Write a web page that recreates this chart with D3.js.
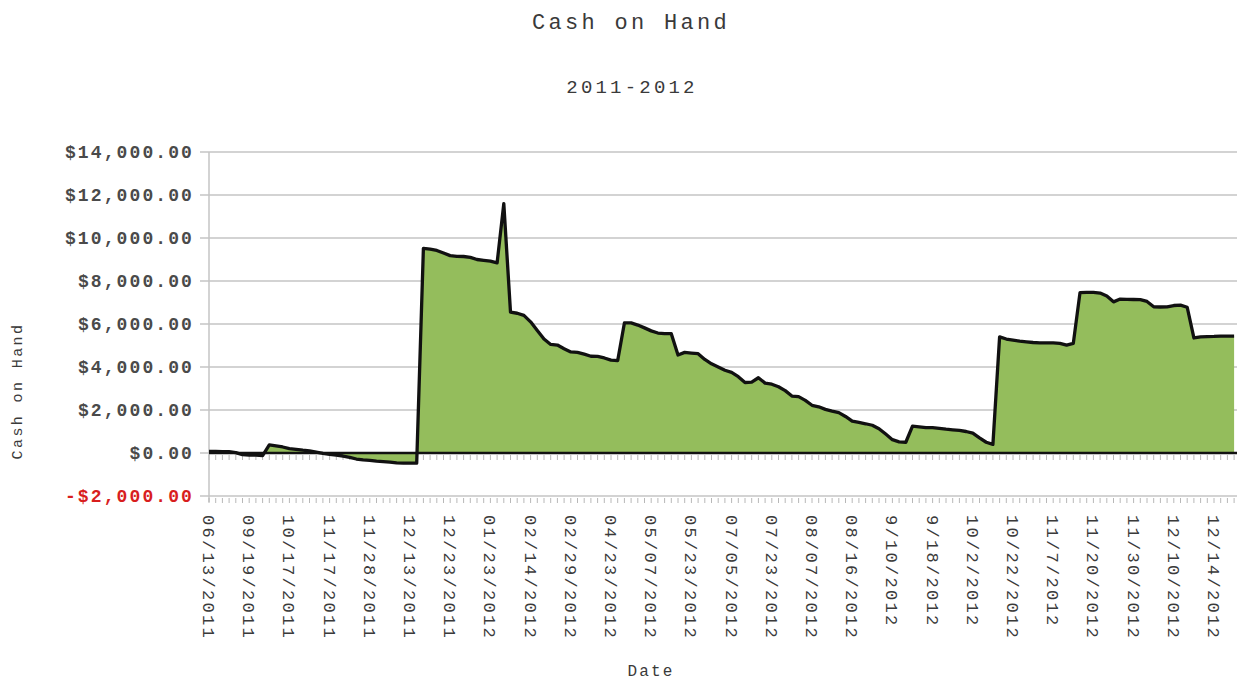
<!DOCTYPE html>
<html>
<head>
<meta charset="utf-8">
<script src="https://cdn.jsdelivr.net/npm/d3@7"></script>
<style>
  body { margin: 0; background: #fff; }
  text { font-family: "Liberation Mono", "Courier New", monospace; fill: #3a3a3a; }
</style>
</head>
<body>
<svg id="chart" width="1237" height="682"></svg>
<script>
// tick labels, one every 6 points
const tickLabels = [
    '06/13/2011', '09/19/2011', '10/17/2011', '11/17/2011', '11/28/2011', '12/13/2011',
    '12/23/2011', '01/23/2012', '02/14/2012', '02/29/2012', '04/23/2012', '05/07/2012',
    '05/23/2012', '07/05/2012', '07/23/2012', '08/07/2012', '08/16/2012', '9/10/2012',
    '9/18/2012', '10/2/2012', '10/22/2012', '11/7/2012', '11/20/2012', '11/30/2012',
    '12/10/2012', '12/14/2012'
];
const labelEvery = 6;

// cash on hand per entry
const cash = [
    80, 70, 60, 60, 20, -80, -100, -100, -120, 380,
    330, 280, 200, 170, 130, 100, 40, -20, -60, -100,
    -140, -200, -280, -320, -340, -380, -400, -420, -460, -470,
    -470, -470, 9520, 9480, 9420, 9300, 9180, 9150, 9140, 9100,
    9000, 8960, 8920, 8840, 11600, 6550, 6500, 6400, 6100, 5700,
    5300, 5050, 5020, 4850, 4700, 4680, 4600, 4500, 4490, 4420,
    4320, 4300, 6050, 6050, 5950, 5820, 5680, 5580, 5550, 5550,
    4560, 4680, 4650, 4620, 4350, 4150, 4000, 3850, 3750, 3550,
    3280, 3300, 3500, 3250, 3200, 3080, 2900, 2650, 2620, 2450,
    2220, 2150, 2030, 1950, 1880, 1700, 1480, 1420, 1360, 1290,
    1130, 880, 620, 520, 500, 1250, 1220, 1180, 1180, 1150,
    1110, 1080, 1050, 1000, 920, 700, 500, 400, 5400, 5300,
    5250, 5200, 5170, 5140, 5120, 5120, 5120, 5100, 5020, 5100,
    7460, 7470, 7470, 7440, 7300, 7030, 7160, 7150, 7140, 7130,
    7050, 6800, 6790, 6800, 6860, 6880, 6780, 5350, 5400, 5410,
    5420, 5440, 5440, 5440
];

const yTicks = [-2000, 0, 2000, 4000, 6000, 8000, 10000, 12000, 14000];

const svg = d3.select('#chart');
const plotLeft = 209, plotRight = 1237, plotTop = 152, plotBottom = 496;

const x = d3.scalePoint()
    .domain(d3.range(cash.length))
    .range([plotLeft, plotLeft + 6.7 * (cash.length - 1)]);

const y = d3.scaleLinear()
    .domain([-2000, 14000])
    .range([plotBottom, plotTop]);

const money = d => (d < 0 ? '-$' : '$') + d3.format(',.2f')(Math.abs(d));

// titles
svg.append('text')
    .attr('x', 631).attr('y', 29)
    .attr('text-anchor', 'middle')
    .style('font-size', '22px')
    .style('letter-spacing', '3.3px')
    .text('Cash on Hand');

svg.append('text')
    .attr('x', 632).attr('y', 93)
    .attr('text-anchor', 'middle')
    .style('font-size', '19px')
    .style('letter-spacing', '3.2px')
    .text('2011-2012');

// gridlines + y ticks
svg.append('g')
    .selectAll('line')
    .data(yTicks)
    .join('line')
        .attr('x1', plotLeft - 9)
        .attr('x2', plotRight)
        .attr('y1', d => y(d))
        .attr('y2', d => y(d))
        .attr('stroke', '#c4c4c4')
        .attr('stroke-width', 1.5);

svg.append('g')
    .selectAll('text')
    .data(yTicks)
    .join('text')
        .attr('x', 194)
        .attr('y', d => y(d))
        .attr('dy', '0.35em')
        .attr('text-anchor', 'end')
        .style('font-size', '18px')
        .style('letter-spacing', '2.1px')
        .style('font-weight', 'bold')
        .style('fill', d => d < 0 ? '#d81e1e' : '#4a4a4a')
        .text(money);

// y axis line
svg.append('line')
    .attr('x1', plotLeft).attr('x2', plotLeft)
    .attr('y1', plotTop).attr('y2', plotBottom + 6)
    .attr('stroke', '#c4c4c4')
    .attr('stroke-width', 1.5);

// minor ticks under zero line and under the bottom axis
[y(0), plotBottom].forEach(base => {
    svg.append('g')
        .selectAll('line')
        .data(x.domain())
        .join('line')
            .attr('x1', d => x(d))
            .attr('x2', d => x(d))
            .attr('y1', base + 2)
            .attr('y2', base + 7)
            .attr('stroke', '#b8b8b8')
            .attr('stroke-width', 1);
});

// area + line
const area = d3.area()
    .x((d, i) => x(i))
    .y0(y(0))
    .y1(d => y(d));

const line = d3.line()
    .x((d, i) => x(i))
    .y(d => y(d));

svg.append('path')
    .datum(cash)
    .attr('d', area)
    .attr('fill', '#94bd5c');

svg.append('line')
    .attr('x1', plotLeft).attr('x2', plotRight)
    .attr('y1', y(0)).attr('y2', y(0))
    .attr('stroke', '#111')
    .attr('stroke-width', 2.5);

svg.append('path')
    .datum(cash)
    .attr('d', line)
    .attr('fill', 'none')
    .attr('stroke', '#111')
    .attr('stroke-width', 3.3)
    .attr('stroke-linejoin', 'round');

// x tick labels, rotated to read downward
svg.append('g')
    .selectAll('text')
    .data(tickLabels)
    .join('text')
        .attr('transform', (d, i) => `translate(${x(i * labelEvery)},515) rotate(90)`)
        .attr('dy', '0.35em')
        .attr('text-anchor', 'start')
        .style('font-size', '17px')
        .style('letter-spacing', '2.3px')
        .text(d => d);

// axis titles
svg.append('text')
    .attr('transform', 'translate(22,391) rotate(-90)')
    .attr('text-anchor', 'middle')
    .style('font-size', '15px')
    .style('letter-spacing', '2.4px')
    .text('Cash on Hand');

svg.append('text')
    .attr('x', 651).attr('y', 676)
    .attr('text-anchor', 'middle')
    .style('font-size', '16px')
    .style('letter-spacing', '2.2px')
    .text('Date');
</script>
</body>
</html>
